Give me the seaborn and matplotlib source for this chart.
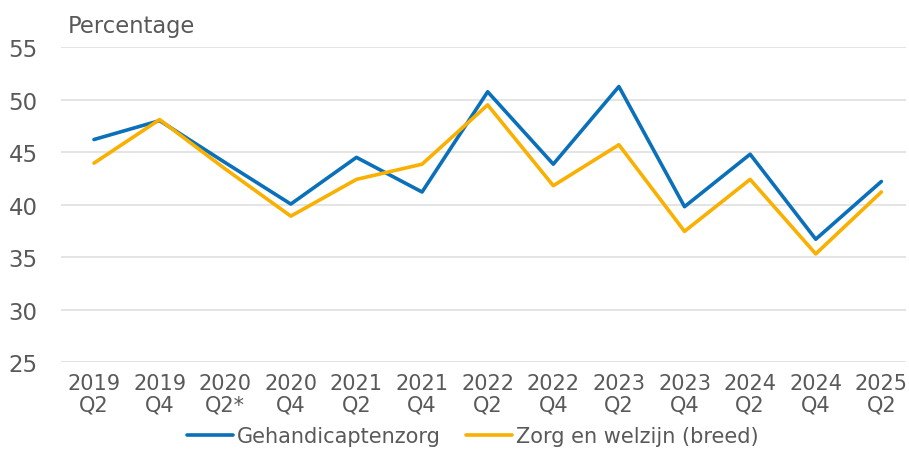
import seaborn as sns
import matplotlib.pyplot as plt
import pandas as pd

# Share of organisations (percentage) per half year
periods = ["2019\nQ2", "2019\nQ4", "2020\nQ2*", "2020\nQ4", "2021\nQ2", "2021\nQ4",
           "2022\nQ2", "2022\nQ4", "2023\nQ2", "2023\nQ4", "2024\nQ2", "2024\nQ4", "2025\nQ2"]
gehandicaptenzorg = [46.2, 48.0, 44.0, 40.05, 44.5, 41.2, 50.75, 43.85, 51.25, 39.8, 44.8, 36.7, 42.2]
zorg_welzijn = [43.95, 48.1, 43.4, 38.9, 42.4, 43.85, 49.5, 41.8, 45.7, 37.45, 42.4, 35.3, 41.2]

series_names = ["Gehandicaptenzorg", "Zorg en welzijn (breed)"]
colors = ["#0a70ba", "#f9b000"]

df = pd.DataFrame({
    "periode": periods * 2,
    "pos": list(range(len(periods))) * 2,
    "waarde": gehandicaptenzorg + zorg_welzijn,
    "reeks": [series_names[0]] * len(periods) + [series_names[1]] * len(periods),
})

sns.set_style("white")
plt.rcParams["font.family"] = ["DejaVu Sans"]

fig = plt.figure(figsize=(9.09, 4.77), dpi=100)
ax = fig.add_axes([0.0673, 0.239, 0.929, 0.66])

sns.lineplot(data=df, x="pos", y="waarde", hue="reeks", palette=colors,
             linewidth=2.6, ax=ax, legend=True)

ax.set_ylim(25, 55)
ax.set_yticks([25, 30, 35, 40, 45, 50, 55])
ax.set_xlim(-0.5, 12.37)
ax.set_xticks(range(len(periods)))
ax.set_xticklabels(periods, fontsize=15, color="#595959", linespacing=1.1)
ax.tick_params(axis="y", labelsize=16.5, labelcolor="#595959", length=0, pad=17)
ax.tick_params(axis="x", length=0, pad=8)
ax.grid(axis="y", color="#dcdcdc", linewidth=1.1)
ax.set_axisbelow(True)
for s in ax.spines.values():
    s.set_visible(False)
ax.set_xlabel("")
ax.set_ylabel("")

fig.text(0.0748, 0.945, "Percentage", fontsize=16.3, color="#595959", va="center")

handles, labels = ax.get_legend_handles_labels()
ax.legend_.remove()
fig.legend(handles, labels, loc="center", bbox_to_anchor=(0.52, 0.083), ncol=2,
           frameon=False, handlelength=2.2, handletextpad=0.2, columnspacing=1.2,
           prop={"size": 15}, labelcolor="#595959")

plt.savefig("out.png", dpi=100)
